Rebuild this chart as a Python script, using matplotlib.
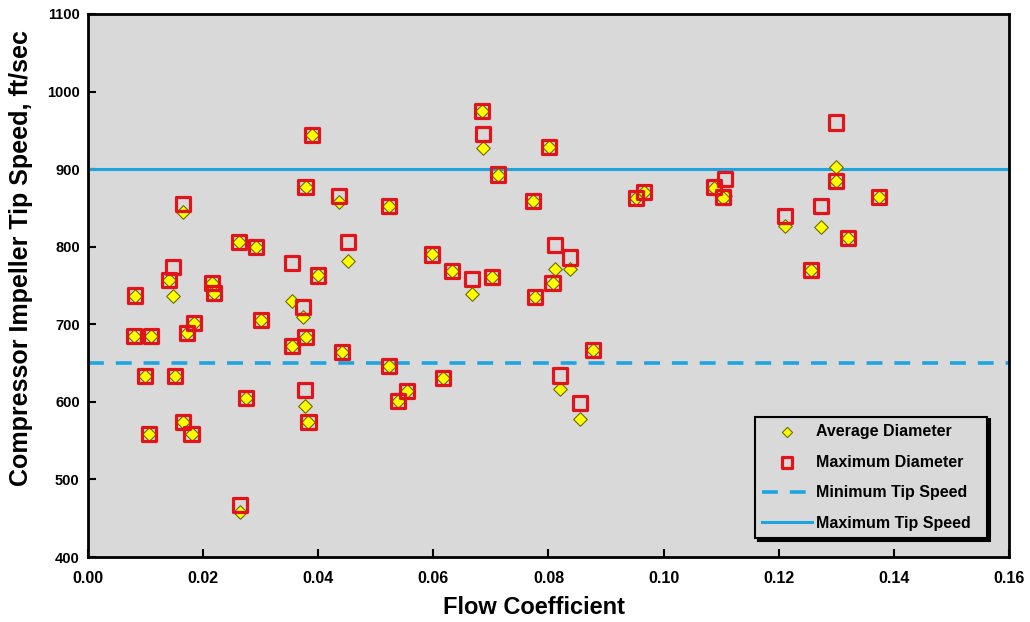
import matplotlib
matplotlib.use("Agg")
import matplotlib.pyplot as plt
from matplotlib import font_manager

# Flow coefficient of each compressor stage
flow_coeff = [0.0082, 0.0080, 0.0109, 0.0099, 0.0106, 0.0141, 0.0148, 0.0151,
              0.0165, 0.0165, 0.0172, 0.0184, 0.0180, 0.0215, 0.0219, 0.0262,
              0.0264, 0.0274, 0.0292, 0.0300, 0.0354, 0.0354, 0.0374, 0.0378,
              0.0377, 0.0383, 0.0378, 0.0389, 0.0400, 0.0436, 0.0441, 0.0452,
              0.0523, 0.0523, 0.0539, 0.0554, 0.0597, 0.0617, 0.0632, 0.0667,
              0.0684, 0.0686, 0.0702, 0.0712, 0.0773, 0.0777, 0.0801, 0.0807,
              0.0811, 0.0837, 0.0820, 0.0855, 0.0878, 0.0952, 0.0966, 0.1087,
              0.1107, 0.1103, 0.1211, 0.1256, 0.1273, 0.1299, 0.1299, 0.1320,
              0.1374]

# Impeller tip speed (ft/sec) based on average diameter
tip_avg = [737, 685, 685, 633, 559, 757, 737, 633,
           845, 574, 689, 702, 559, 753, 740, 806,
           458, 605, 800, 706, 730, 672, 710, 684,
           595, 574, 877, 944, 763, 857, 664, 782,
           852, 646, 601, 614, 790, 631, 769, 739,
           975, 927, 761, 893, 859, 735, 929, 753,
           771, 771, 617, 578, 667, 863, 871, 876,
           866, 863, 827, 770, 826, 903, 885, 811,
           864]

# Impeller tip speed (ft/sec) based on maximum diameter
tip_max = [737, 685, 685, 633, 559, 757, 774, 633,
           855, 574, 689, 702, 559, 753, 740, 806,
           467, 605, 800, 706, 779, 672, 722, 684,
           615, 574, 877, 944, 763, 865, 664, 806,
           852, 646, 601, 614, 790, 631, 769, 758,
           975, 945, 761, 893, 859, 735, 929, 753,
           802, 786, 634, 599, 667, 863, 871, 877,
           887, 864, 840, 770, 852, 960, 885, 811,
           864]

min_tip_speed = 650
max_tip_speed = 900

x_ticks = [0.00, 0.02, 0.04, 0.06, 0.08, 0.10, 0.12, 0.14, 0.16]
y_ticks = [400, 500, 600, 700, 800, 900, 1000, 1100]

installed = {f.name for f in font_manager.fontManager.ttflist}
base_font = "Liberation Sans" if "Liberation Sans" in installed else "DejaVu Sans"
narrow_font = "Liberation Sans Narrow" if "Liberation Sans Narrow" in installed else base_font
plt.rcParams["font.family"] = [base_font, "DejaVu Sans"]

fig = plt.figure(figsize=(10.30, 6.22), dpi=100)
ax = fig.add_axes([0.0854, 0.1045, 0.8942, 0.873])
ax.set_facecolor("#D9D9D9")

blue = "#1EA5E0"
ax.axhline(min_tip_speed, color=blue, lw=2.6, dashes=(4.4, 3.3),
           label="Minimum Tip Speed", zorder=2)
ax.axhline(max_tip_speed, color=blue, lw=2.2, label="Maximum Tip Speed", zorder=2)

ax.scatter(flow_coeff, tip_avg, marker="D", s=48, facecolor="#FFFF00",
           edgecolor="#6B6B00", linewidth=0.8, label="Average Diameter", zorder=3)
ax.scatter(flow_coeff, tip_max, marker="s", s=105, facecolor="none",
           edgecolor="#E0141B", linewidth=2.3, label="Maximum Diameter", zorder=4)

ax.set_xlim(0.0, 0.16)
ax.set_ylim(400, 1100)
ax.set_xticks(x_ticks)
ax.set_yticks(y_ticks)
ax.set_xticklabels([f"{v:.2f}" for v in x_ticks], fontfamily=narrow_font,
                   fontweight="bold", fontsize=11.5)
ax.set_yticklabels([str(v) for v in y_ticks], fontweight="bold", fontsize=10.5)
ax.tick_params(direction="in", length=6, width=1.5)
ax.tick_params(axis="x", pad=10)
ax.tick_params(axis="y", pad=6)

for sp in ax.spines.values():
    sp.set_linewidth(2)
    sp.set_color("black")

ax.set_xlabel("Flow Coefficient", fontfamily=narrow_font, fontweight="bold",
              fontsize=17, labelpad=9)
ax.xaxis.set_label_coords(0.484, -0.072)
ax.set_ylabel("Compressor Impeller Tip Speed, ft/sec", fontweight="bold",
              fontsize=18, labelpad=6)
ax.yaxis.set_label_coords(-0.060, 0.551)

handles, labels = ax.get_legend_handles_labels()
order = [labels.index(n) for n in ["Average Diameter", "Maximum Diameter",
                                   "Minimum Tip Speed", "Maximum Tip Speed"]]
leg = ax.legend([handles[i] for i in order], [labels[i] for i in order],
                loc="lower left", bbox_to_anchor=(0.7242, 0.035, 0.2519, 0.2),
                mode="expand", borderaxespad=0.0,
                prop={"weight": "bold", "size": 11.5}, frameon=True,
                fancybox=False, facecolor="#D9D9D9", edgecolor="black",
                framealpha=1, shadow={"color": "black", "alpha": 1},
                borderpad=0.45, labelspacing=0.98, handlelength=3.1,
                handletextpad=0.25, markerscale=0.75)
leg.get_frame().set_linewidth(1.5)

fig.savefig("out.png", dpi=100, facecolor="white")
